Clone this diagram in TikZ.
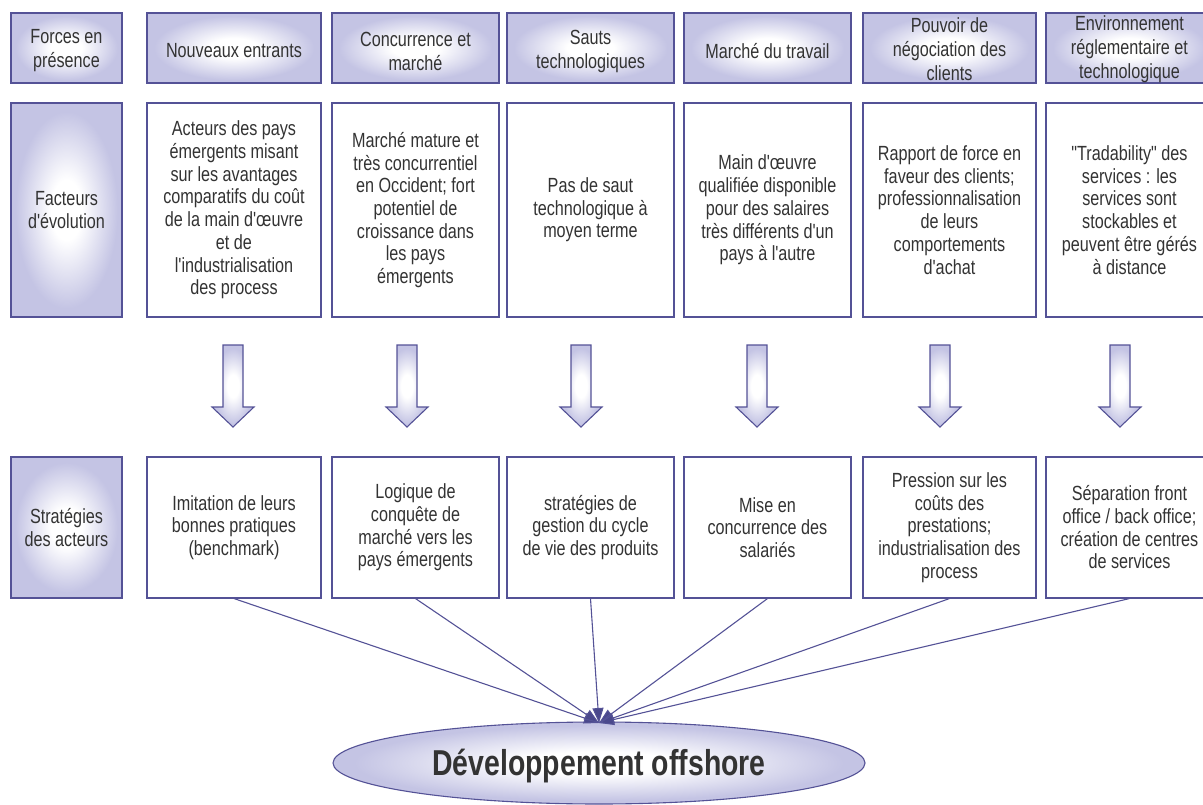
\documentclass[tikz,border=0pt]{standalone}
\usepackage{fontspec}
\setmainfont{Liberation Sans}[FakeStretch=0.79,Ligatures=TeXOff]
\usetikzlibrary{shapes.geometric,arrows.meta}
\definecolor{lav}{RGB}{196,196,228}
\definecolor{edgec}{RGB}{84,82,150}
\definecolor{headc}{RGB}{74,72,140}
\definecolor{txt}{RGB}{51,51,51}
\pgfdeclareradialshading{boxshade}{\pgfpoint{0bp}{0bp}}{color(0bp)=(white); color(7bp)=(white); color(23bp)=(lav); color(50bp)=(lav)}
\tikzset{
  cell/.style={draw=edgec, line width=1.1pt, inner sep=0pt, align=center, text=txt,
    font=\fontsize{20.5}{22.7}\selectfont},
  shadedcell/.style={cell, shading=boxshade},
  plaincell/.style={cell, fill=white},
  hdrbox/.style={draw=edgec, line width=1.1pt, inner sep=0pt, shading=boxshade, minimum height=70},
  hdrtext/.style={inner sep=0pt, align=center, text=txt, font=\fontsize{20.5}{24}\selectfont},
  conn/.style={draw=edgec, line width=1.1pt, -{Triangle[length=15pt,width=11pt,fill=headc]}},
  downarrow/.style={draw=edgec, line width=1.1pt, shading=boxshade}
}
\begin{document}
\begin{tikzpicture}[x=1pt,y=-1pt]
\useasboundingbox (0,0) rectangle (1203,805);
\begin{scope}
\clip (0,0) rectangle (1203,805);
% header row
\node[hdrbox, minimum width=111] (h0) at (66.5,48) {};
\node[hdrbox, minimum width=174] (h1) at (234,48) {};
\node[hdrbox, minimum width=167] (h2) at (415.5,48) {};
\node[hdrbox, minimum width=167] (h3) at (590.5,48) {};
\node[hdrbox, minimum width=167] (h4) at (767.5,48) {};
\node[hdrbox, minimum width=173] (h5) at (949.5,48) {};
\node[hdrbox, minimum width=167] (h6) at (1129.5,48) {};
\node[hdrtext] (t0) at ([yshift=-3pt]h0.center) {Forces en\\présence};
\node[hdrtext] (t1) at ([yshift=-3pt]h1.center) {Nouveaux entrants};
\node[hdrtext] (t2) at ([yshift=-3pt]h2.center) {Concurrence et\\marché};
\node[hdrtext] (t3) at ([yshift=-3pt]h3.center) {Sauts\\technologiques};
\node[hdrtext] (t4) at ([yshift=-3pt]h4.center) {Marché du travail};
\node[hdrtext] (t5) at ([yshift=-1pt]h5.center) {Pouvoir de\\négociation des\\clients};
\node[hdrtext] (t6) at ([yshift=-1pt]h6.center) {Environnement\\réglementaire et\\technologique};
% factors row
\node[shadedcell, minimum width=111, minimum height=214] (f0) at (66.5,210) {Facteurs\\d'évolution};
\node[plaincell, minimum width=174, minimum height=214] (f1) at (234,210) {Acteurs des pays\\émergents misant\\sur les avantages\\comparatifs du coût\\de la main d'œuvre\\et de\\l'industrialisation\\des process};
\node[plaincell, minimum width=167, minimum height=214] (f2) at (415.5,210) {Marché mature et\\très concurrentiel\\en Occident; fort\\potentiel de\\croissance dans\\les pays\\émergents};
\node[plaincell, minimum width=167, minimum height=214] (f3) at (590.5,210) {Pas de saut\\technologique à\\moyen terme};
\node[plaincell, minimum width=167, minimum height=214] (f4) at (767.5,210) {Main d'œuvre\\qualifiée disponible\\pour des salaires\\très différents d'un\\pays à l'autre};
\node[plaincell, minimum width=173, minimum height=214] (f5) at (949.5,210) {Rapport de force en\\faveur des clients;\\professionnalisation\\de leurs\\comportements\\d'achat};
\node[plaincell, minimum width=167, minimum height=214] (f6) at (1129.5,210) {"Tradability" des\\services : les\\services sont\\stockables et\\peuvent être gérés\\à distance};
% arrows
\foreach \x in {233,407,581,757,940,1120}{
  \draw[downarrow] (\x-10,345) -- (\x+10,345) -- (\x+10,407) -- (\x+21,407) -- (\x,427) -- (\x-21,407) -- (\x-10,407) -- cycle;
}
% strategies row
\node[shadedcell, minimum width=111, minimum height=141] (s0) at (66.5,527.5) {Stratégies\\des acteurs};
\node[plaincell, minimum width=174, minimum height=141] (s1) at (234,527.5) {Imitation de leurs\\bonnes pratiques\\(benchmark)};
\node[plaincell, minimum width=167, minimum height=141] (s2) at (415.5,527.5) {Logique de\\conquête de\\marché vers les\\pays émergents};
\node[plaincell, minimum width=167, minimum height=141] (s3) at (590.5,527.5) {stratégies de\\gestion du cycle\\de vie des produits};
\node[plaincell, minimum width=167, minimum height=141] (s4) at (767.5,527.5) {Mise en\\concurrence des\\salariés};
\node[plaincell, minimum width=173, minimum height=141] (s5) at (949.5,527.5) {Pression sur les\\coûts des\\prestations;\\industrialisation des\\process};
\node[plaincell, minimum width=167, minimum height=141] (s6) at (1129.5,527.5) {Séparation front\\office / back office;\\création de centres\\de services};
% ellipse
\node[ellipse, draw=edgec, line width=1.1pt, shading=boxshade, minimum width=532, minimum height=82, inner sep=0pt] (dev) at (599,763) {};
\node[inner sep=0pt, text=txt, font=\fontsize{36}{40}\selectfont\bfseries] (devt) at ([yshift=-3pt]dev.center) {Développement offshore};
\coordinate (hub) at (599,723);
\foreach \s in {s1,s2,s3,s4,s5,s6}{
  \draw[conn] (\s.south) -- (hub);
}
\end{scope}
\end{tikzpicture}
\end{document}
